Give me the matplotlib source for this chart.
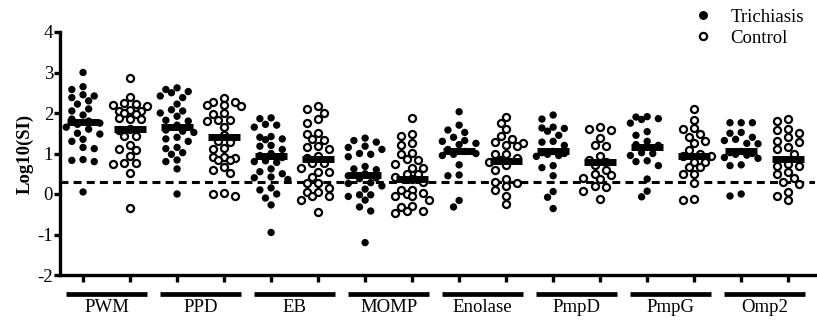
import numpy as np
import matplotlib
matplotlib.use("Agg")
import matplotlib.pyplot as plt
from matplotlib.lines import Line2D

plt.rcParams['font.family'] = ['Liberation Serif', 'DejaVu Serif']

categories = ["PWM", "PPD", "EB", "MOMP", "Enolase", "PmpD", "PmpG", "Omp2"]
series_names = ["Trichiasis", "Control"]

trichiasis = [
    [3.0, 2.65, 2.58, 2.45, 2.42, 2.38, 2.3, 2.22, 2.1, 2.05, 1.95, 1.85, 1.8, 1.75,
     1.72, 1.65, 1.6, 1.5, 1.48, 1.35, 1.3, 1.15, 1.12, 0.85, 0.8, 0.83, 0.05],
    [2.62, 2.58, 2.53, 2.5, 2.42, 2.38, 2.22, 2.08, 2.05, 2.0, 1.92, 1.82, 1.8, 1.7,
     1.58, 1.55, 1.52, 1.4, 1.36, 1.3, 1.15, 1.12, 1.02, 0.98, 0.84, 0.8, 0.62, 0.0],
    [1.88, 1.86, 1.72, 1.7, 1.65, 1.42, 1.4, 1.36, 1.34, 1.2, 1.18, 1.1, 1.0, 0.95,
     0.9, 0.82, 0.8, 0.78, 0.62, 0.55, 0.5, 0.42, 0.4, 0.36, 0.15, 0.1, 0.0, -0.1,
     -0.27, -0.95],
    [1.38, 1.32, 1.28, 1.18, 1.15, 1.1, 1.0, 0.98, 0.92, 0.68, 0.62, 0.6, 0.5, 0.45,
     0.4, 0.38, 0.28, 0.26, 0.2, 0.12, -0.02, -0.02, -0.06, -0.15, -0.32, -0.42, -1.2],
    [2.03, 1.7, 1.58, 1.52, 1.4, 1.32, 1.3, 1.25, 1.22, 1.1, 1.05, 1.0, 0.98, 0.95,
     0.72, 0.47, 0.45, -0.16, -0.32],
    [1.95, 1.85, 1.65, 1.63, 1.62, 1.55, 1.45, 1.3, 1.28, 1.2, 1.05, 1.02, 1.0, 0.98,
     0.95, 0.93, 0.7, 0.65, 0.45, 0.06, -0.08, -0.36],
    [1.91, 1.9, 1.86, 1.84, 1.75, 1.54, 1.45, 1.3, 1.22, 1.2, 1.15, 1.02, 1.0, 0.95,
     0.82, 0.8, 0.7, 0.37, 0.07, -0.07],
    [1.76, 1.76, 1.76, 1.52, 1.5, 1.4, 1.35, 1.32, 1.25, 1.24, 1.05, 1.02, 1.0, 0.98,
     0.96, 0.9, 0.88, 0.72, 0.7, 0.0, -0.05],
]

control = [
    [2.86, 2.39, 2.24, 2.22, 2.2, 2.18, 2.07, 2.06, 2.05, 2.0, 1.98, 1.87, 1.85, 1.84,
     1.6, 1.58, 1.43, 1.42, 1.21, 1.1, 1.08, 0.93, 0.77, 0.76, 0.75, 0.53, -0.35],
    [2.37, 2.28, 2.27, 2.2, 2.19, 2.18, 2.0, 1.98, 1.83, 1.82, 1.8, 1.66, 1.45, 1.3,
     1.28, 1.13, 1.12, 0.92, 0.91, 0.9, 0.85, 0.84, 0.67, 0.6, 0.52, 0.02, 0.01, -0.06],
    [2.17, 2.09, 2.0, 1.85, 1.75, 1.5, 1.48, 1.35, 1.34, 1.18, 1.17, 1.1, 0.95, 0.9,
     0.77, 0.76, 0.65, 0.55, 0.54, 0.42, 0.27, 0.26, 0.15, 0.05, 0.04, -0.05, -0.06,
     -0.15, -0.45],
    [1.87, 1.48, 1.43, 1.26, 1.2, 1.02, 1.0, 0.86, 0.85, 0.75, 0.64, 0.63, 0.5, 0.49,
     0.42, 0.36, 0.3, 0.1, 0.09, 0.02, 0.0, -0.05, -0.06, -0.16, -0.3, -0.31, -0.41,
     -0.42, -0.46],
    [1.89, 1.76, 1.6, 1.42, 1.35, 1.28, 1.27, 1.2, 1.18, 1.0, 0.98, 0.9, 0.85, 0.8,
     0.72, 0.6, 0.37, 0.3, 0.28, 0.2, 0.11, -0.04, -0.24],
    [1.66, 1.6, 1.59, 1.38, 1.2, 1.19, 0.95, 0.85, 0.8, 0.72, 0.6, 0.5, 0.46, 0.4,
     0.38, 0.2, 0.18, 0.08, -0.13],
    [2.11, 1.83, 1.62, 1.6, 1.48, 1.4, 1.3, 1.25, 1.08, 1.0, 0.95, 0.93, 0.8, 0.79,
     0.67, 0.66, 0.5, 0.49, 0.28, -0.12, -0.16],
    [1.84, 1.8, 1.6, 1.59, 1.5, 1.4, 1.3, 1.29, 1.16, 1.1, 1.0, 0.75, 0.7, 0.69, 0.55,
     0.5, 0.4, 0.3, 0.25, 0.05, -0.05, -0.16],
]

median_trichiasis = [1.78, 1.65, 0.93, 0.47, 1.07, 1.05, 1.15, 1.05]
median_control = [1.60, 1.40, 0.86, 0.38, 0.82, 0.80, 0.95, 0.86]

threshold = 0.3
yticks = [-2, -1, 0, 1, 2, 3, 4]
ylabel = "Log10(SI)"

W, H = 817, 322
fig = plt.figure(figsize=(W / 100, H / 100), dpi=100)
left_px, right_px, top_px, bottom_px = 60, 815, 32, 275
ax = fig.add_axes([left_px / W, 1 - bottom_px / H,
                   (right_px - left_px) / W, (bottom_px - top_px) / H])

xmin, xmax = -0.49, 15.57
ymin, ymax = -2, 4
ax.set_xlim(xmin, xmax)
ax.set_ylim(ymin, ymax)

px_per_x = (right_px - left_px) / (xmax - xmin)
px_per_y = (bottom_px - top_px) / (ymax - ymin)


def swarm_offsets(vals, diam=7.6, step=5.6, kmax=3):
    """Compact beeswarm in pixel space (overlap allowed); x offsets in pixels."""
    order = np.argsort(vals)[::-1]
    placed = []
    offs = np.zeros(len(vals))
    cand = [0.0]
    for k in range(1, kmax + 1):
        cand += [-k * step, k * step]
    for i in order:
        y = vals[i] * px_per_y
        best, best_d = 0.0, -1.0
        for c in cand:
            if placed:
                d = min(np.hypot(px - c, py - y) for (px, py) in placed)
            else:
                d = 1e9
            if d >= diam:
                best = c
                break
            if d > best_d + 0.5:
                best, best_d = c, d
        offs[i] = best
        placed.append((best, y))
    return offs


for gi, cat in enumerate(categories):
    for si, data in enumerate([trichiasis[gi], control[gi]]):
        pos = gi * 2 + si
        vals = np.array(data, dtype=float)
        offs = swarm_offsets(vals) / px_per_x
        if si == 0:
            ax.scatter(pos + offs, vals, s=28, c='black', edgecolors='none',
                       zorder=3, clip_on=False)
        else:
            ax.scatter(pos + offs, vals, s=26, facecolors='white',
                       edgecolors='black', linewidths=1.6, zorder=3, clip_on=False)
        med = median_trichiasis[gi] if si == 0 else median_control[gi]
        half = 16 / px_per_x
        ax.plot([pos - half, pos + half], [med, med], color='black', lw=5.0,
                solid_capstyle='butt', zorder=4)

ax.axhline(threshold, color='black', lw=2.2, ls=(0, (2.6, 1.7)), zorder=2)

for s in ['top', 'right']:
    ax.spines[s].set_visible(False)
for s in ['left', 'bottom']:
    ax.spines[s].set_linewidth(2.4)

ax.set_xticks(np.arange(len(categories) * 2))
ax.set_xticklabels([])
ax.set_yticks(yticks)
ax.set_yticklabels([str(t) for t in yticks], fontsize=13.5)
ax.tick_params(axis='x', length=5, width=2.4, direction='out')
ax.tick_params(axis='y', length=4, width=2.4, direction='out', pad=1)
ax.set_ylabel(ylabel, fontsize=13.5, fontweight='bold', labelpad=3)

trans = ax.get_xaxis_transform()
bar_y = -(294 - bottom_px) / (bottom_px - top_px)
lab_y = -(308 - bottom_px) / (bottom_px - top_px)
ext = 17 / px_per_x
for gi, cat in enumerate(categories):
    x0 = gi * 2 - ext
    x1 = gi * 2 + 1 + ext
    ax.add_line(Line2D([x0, x1], [bar_y, bar_y], transform=trans, color='black',
                       lw=3.4, solid_capstyle='butt', clip_on=False))
    ax.text(gi * 2 + 0.5, lab_y, cat, transform=trans, ha='center', va='center',
            fontsize=13.5)

handles = [
    Line2D([], [], ls='none', marker='o', markersize=5.4, markerfacecolor='black',
           markeredgecolor='black'),
    Line2D([], [], ls='none', marker='o', markersize=5.2, markerfacecolor='white',
           markeredgecolor='black', markeredgewidth=1.6),
]
fig.legend(handles, series_names, loc='upper left',
           bbox_to_anchor=(681 / W, 1 - 1 / H), frameon=False, fontsize=13.5,
           handletextpad=0.75, labelspacing=0.22, borderaxespad=0, handlelength=1.5)

fig.savefig("out.png", dpi=100)
